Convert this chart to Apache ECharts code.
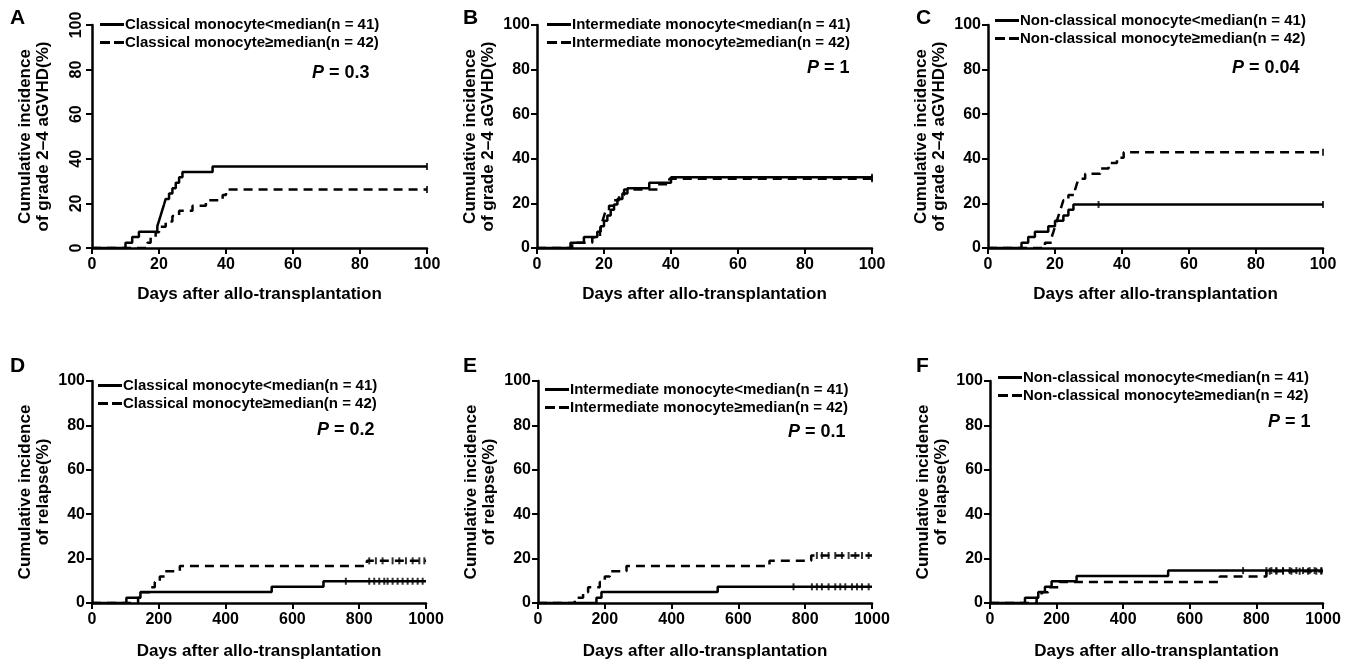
<!DOCTYPE html>
<html>
<head>
<meta charset="utf-8">
<script src="https://cdn.jsdelivr.net/npm/echarts@6/dist/echarts.min.js"></script>
<style>
  html, body { margin: 0; padding: 0; background: #fff; }
  #main { width: 1353px; height: 665px; }
</style>
</head>
<body>
<div id="main"></div>
<script>
// step curves: event times and cumulative incidence (%)
var aSolidT = [0, 10, 12, 14, 19.5, 20, 20.5, 21, 21.5, 22, 23, 24, 25, 26, 27, 36, 100];
var aSolidY = [0, 2.4, 4.9, 7.3, 9.8, 12.2, 14.6, 17.1, 19.5, 22.0, 24.4, 26.8, 29.3, 31.7, 34.1, 36.6, 36.6];
var aDashT = [0, 16.5, 17.5, 19, 20, 22, 24, 26, 30, 34, 39, 40, 100];
var aDashY = [0, 2.4, 4.8, 7.1, 9.5, 11.9, 14.3, 16.7, 19.0, 21.4, 23.8, 26.2, 26.2];

var bSolidT = [0, 10, 14, 18, 19, 20, 21, 22, 23, 24, 25.5, 27, 33.5, 40, 100];
var bSolidY = [0, 2.4, 4.9, 7.3, 9.8, 12.2, 14.6, 17.1, 19.5, 22.0, 24.4, 26.8, 29.3, 31.7, 31.7];
var bDashT = [0, 10.5, 16.5, 18.8, 19, 19.5, 20, 20.5, 21.5, 23, 24.5, 26, 36, 39.5, 100];
var bDashY = [0, 2.4, 4.8, 7.1, 9.5, 11.9, 14.3, 16.7, 19.0, 21.4, 23.8, 26.2, 28.6, 31.0, 31.0];

var cSolidT = [0, 10, 12, 14, 18, 20, 22.5, 24, 25.5, 100];
var cSolidY = [0, 2.4, 4.9, 7.3, 9.8, 12.2, 14.6, 17.1, 19.5, 19.5];
var cDashT = [0, 17, 19, 19.5, 20, 20.5, 21, 21.5, 22, 22.5, 24, 26, 26.5, 27, 29, 33.5, 36, 38.5, 40.5, 100];
var cDashY = [0, 2.4, 4.8, 7.1, 9.5, 11.9, 14.3, 16.7, 19.0, 21.4, 23.8, 26.2, 28.6, 31.0, 33.3, 35.7, 38.1, 40.5, 42.9, 42.9];

var dSolidT = [0, 103, 145, 538, 693, 1000];
var dSolidY = [0, 2.4, 4.9, 7.3, 9.8, 9.8];
var dDashT = [0, 138, 148, 173, 188, 203, 218, 263, 823, 1000];
var dDashY = [0, 2.4, 4.8, 7.1, 9.5, 11.9, 14.3, 16.7, 19.0, 19.0];

var eSolidT = [0, 175, 190, 538, 1000];
var eSolidY = [0, 2.4, 4.9, 7.3, 7.3];
var eDashT = [0, 110, 135, 150, 185, 200, 215, 265, 693, 818, 1000];
var eDashY = [0, 2.4, 4.8, 7.1, 9.5, 11.9, 14.3, 16.7, 19.0, 21.4, 21.4];

var fSolidT = [0, 105, 145, 165, 185, 260, 535, 1000];
var fSolidY = [0, 2.4, 4.9, 7.3, 9.8, 12.2, 14.6, 14.6];
var fDashT = [0, 140, 155, 175, 210, 690, 830, 1000];
var fDashY = [0, 2.4, 4.8, 7.1, 9.5, 11.9, 14.3, 14.3];

// censored times (small vertical ticks)
var aSolidCens = [100];
var aDashCens = [100];
var bSolidCens = [100];
var bDashCens = [100];
var cSolidCens = [33, 100];
var cDashCens = [100];
var dSolidCens = [760, 830, 845, 860, 875, 885, 900, 915, 930, 945, 960, 975, 990];
var dDashCens = [830, 850, 870, 900, 920, 940, 960, 980, 995];
var eSolidCens = [765, 820, 835, 850, 870, 890, 905, 920, 940, 955, 970, 990];
var eDashCens = [835, 850, 870, 890, 910, 930, 950, 970, 990];
var fSolidCens = [760, 830, 845, 860, 880, 900, 920, 940, 960, 975, 995];
var fDashCens = [840, 860, 880, 905, 930, 955, 980, 995];

var panelLetters = ['A', 'B', 'C', 'D', 'E', 'F'];
var pValues = ['0.3', '1', '0.04', '0.2', '0.1', '1'];
var groupNames = ['Classical', 'Intermediate', 'Non-classical'];

var FONT = '"Liberation Sans", Arial, sans-serif';

var grids = [
  { left: 92, top: 25, width: 335, height: 223 },
  { left: 537, top: 25, width: 335, height: 223 },
  { left: 988, top: 25, width: 335, height: 223 },
  { left: 92, top: 381, width: 334, height: 222 },
  { left: 538, top: 381, width: 334, height: 222 },
  { left: 990, top: 381, width: 333, height: 222 }
];
var legendPos = [[100, 16], [547, 16], [995, 12], [98, 377], [545, 381], [998, 369]];
var pPos = [[312, 64], [807, 59], [1232, 59], [317, 421], [788, 423], [1268, 413]];
var letterPos = [[10, 8], [463, 8], [916, 8], [10, 356], [463, 356], [916, 356]];

var curves = [
  [aSolidT, aSolidY, aSolidCens, aDashT, aDashY, aDashCens],
  [bSolidT, bSolidY, bSolidCens, bDashT, bDashY, bDashCens],
  [cSolidT, cSolidY, cSolidCens, cDashT, cDashY, cDashCens],
  [dSolidT, dSolidY, dSolidCens, dDashT, dDashY, dDashCens],
  [eSolidT, eSolidY, eSolidCens, eDashT, eDashY, eDashCens],
  [fSolidT, fSolidY, fSolidCens, fDashT, fDashY, fDashCens]
];

// legend line samples
var ICON_SOLID = 'path://M0,0 L24,0 L24,3 L0,3 Z';
var ICON_DASH = 'path://M0,0 L10,0 L10,3 L0,3 Z M14,0 L24,0 L24,3 L14,3 Z';

function pairs(t, y) {
  var out = [];
  for (var i = 0; i < t.length; i++) out.push([t[i], y[i]]);
  return out;
}
// y of the step curve at time x
function stepAt(t, y, x) {
  var v = y[0];
  for (var i = 0; i < t.length; i++) { if (t[i] <= x) v = y[i]; }
  return v;
}
function censPts(t, y, cens) {
  return cens.map(function (c) { return [c, stepAt(t, y, c)]; });
}

var option = {
  animation: false,
  backgroundColor: '#fff',
  textStyle: { fontFamily: FONT },
  grid: grids,
  title: [],
  legend: [],
  xAxis: [],
  yAxis: [],
  series: []
};

for (var p = 0; p < 6; p++) {
  var isTop = p < 3;
  var grp = groupNames[p % 3];
  var n1 = grp + ' monocyte<median(n = 41)';
  var n2 = grp + ' monocyte\u2265median(n = 42)';
  var c = curves[p];

  option.xAxis.push({
    gridIndex: p, type: 'value', min: 0, max: isTop ? 100 : 1000, interval: isTop ? 20 : 200,
    name: 'Days after allo-transplantation', nameLocation: 'middle', nameGap: isTop ? 38 : 40,
    nameTextStyle: { color: '#000', fontWeight: 'bold', fontSize: 17, fontFamily: FONT },
    splitLine: { show: false },
    axisLine: { onZero: false, lineStyle: { color: '#000', width: 2.5 } },
    axisTick: { length: 6, lineStyle: { color: '#000', width: 2 } },
    axisLabel: {
      color: '#000', fontWeight: 'bold', fontSize: 16, margin: 9, fontFamily: FONT,
      formatter: function (v) { return String(v); }
    }
  });
  option.yAxis.push({
    gridIndex: p, type: 'value', min: 0, max: 100, interval: 20,
    name: isTop ? 'Cumulative incidence\nof grade 2\u20134 aGVHD(%)' : 'Cumulative incidence\nof relapse(%)',
    nameLocation: 'middle', nameRotate: 90, nameGap: 40,
    nameTextStyle: { color: '#000', fontWeight: 'bold', fontSize: 17, lineHeight: 18, fontFamily: FONT },
    splitLine: { show: false },
    axisLine: { show: true, onZero: false, lineStyle: { color: '#000', width: 2.5 } },
    axisTick: { show: true, length: 6, lineStyle: { color: '#000', width: 2 } },
    axisLabel: { color: '#000', fontWeight: 'bold', fontSize: 16, margin: 7, rotate: p === 0 ? 90 : 0, fontFamily: FONT }
  });

  option.series.push({
    name: n1, type: 'line', xAxisIndex: p, yAxisIndex: p, step: 'end', symbol: 'none',
    lineStyle: { color: '#000', width: 2.5, type: 'solid' }, itemStyle: { color: '#000' },
    data: pairs(c[0], c[1])
  });
  option.series.push({
    name: n2, type: 'line', xAxisIndex: p, yAxisIndex: p, step: 'end', symbol: 'none',
    lineStyle: { color: '#000', width: 2.5, type: [9, 6] }, itemStyle: { color: '#000' },
    data: pairs(c[3], c[4])
  });
  option.series.push({
    type: 'scatter', xAxisIndex: p, yAxisIndex: p, symbol: 'rect', symbolSize: [2, 7],
    itemStyle: { color: '#000' }, silent: true,
    data: censPts(c[0], c[1], c[2]).concat(censPts(c[3], c[4], c[5]))
  });

  option.legend.push({
    orient: 'vertical', left: legendPos[p][0], top: legendPos[p][1],
    itemWidth: 24, itemHeight: 3, itemGap: 1, padding: 0, selectedMode: false,
    itemStyle: { color: '#000', borderWidth: 0 },
    textStyle: { color: '#000', fontWeight: 'bold', fontSize: 15, lineHeight: 17, fontFamily: FONT, padding: [0, 0, 0, -4] },
    data: [{ name: n1, icon: ICON_SOLID }, { name: n2, icon: ICON_DASH }]
  });

  option.title.push({
    left: pPos[p][0], top: pPos[p][1], padding: 0,
    text: '{i|P}{n| = ' + pValues[p] + '}',
    textStyle: {
      rich: {
        i: { fontStyle: 'italic', fontWeight: 'bold', fontSize: 18, color: '#000', fontFamily: FONT },
        n: { fontWeight: 'bold', fontSize: 18, color: '#000', fontFamily: FONT }
      }
    }
  });
  option.title.push({
    left: letterPos[p][0], top: letterPos[p][1], padding: 0, text: panelLetters[p],
    textStyle: { color: '#000', fontWeight: 'bold', fontSize: 21, fontFamily: FONT }
  });
}

var myChart = echarts.init(document.getElementById('main'));
myChart.setOption(option);
</script>
</body>
</html>
